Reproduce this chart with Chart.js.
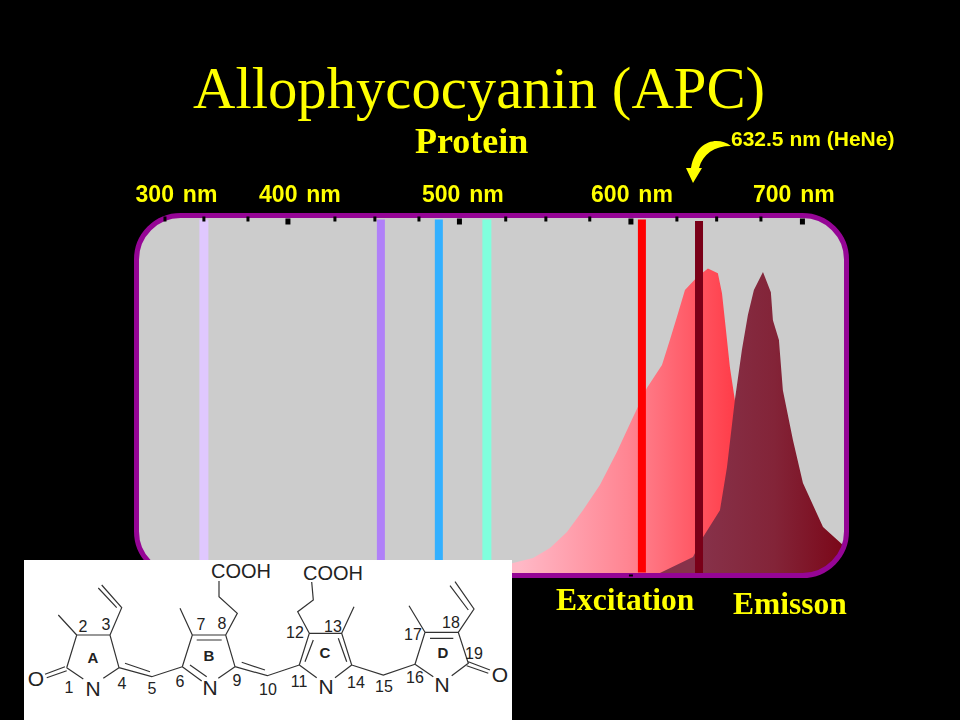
<!DOCTYPE html>
<html>
<head>
<meta charset="utf-8">
<title>Allophycocyanin (APC)</title>
<script src="https://cdn.jsdelivr.net/npm/chart.js@4/dist/chart.umd.min.js"></script>
<style>
  html, body { margin: 0; background: #000; }
  #wrap { position: relative; width: 960px; height: 720px; overflow: hidden; }
  #molecule { position: absolute; left: 0; top: 0; }
  #molecule path { fill: none; stroke: #333; stroke-width: 1.2; }
  #molecule text { font-family: "Liberation Sans", sans-serif; fill: #222; text-anchor: middle; dominant-baseline: central; font-size: 16px; }
  #molecule .atom { font-size: 21px; }
  #molecule .ring { font-size: 15px; font-weight: bold; }
</style>
</head>
<body>
<div id="wrap">
  <canvas id="chart" width="960" height="720"></canvas>
  <svg id="molecule" width="960" height="720">
    <rect x="24" y="560" width="488" height="160" fill="#fff"/>
    <!-- ring A -->
    <path d="M66.7 667.7L76.7 635L110 635L119 667.7L103.3 678.3M66.7 667.7L83.3 679M65 666.7L45 674.3M66.7 670.7L46.7 677.7M76.7 635L58.3 615M110 635L121.7 607.7L101.7 585M116.7 607.7L98.3 588M119 667.7L151.7 676.7L182.3 666.7M125 663.3L150 671.7"/>
    <!-- ring B -->
    <path d="M182.3 666.7L192.3 635L225.7 635L235 666.7L218.3 678.3M196.7 640L221.7 640M182.3 666.7L201.7 681M190 665L206.7 676.7M235 666.7L267.3 675.7L299.3 665M241.7 662.3L265 670M192.3 635L180 608.3M225.7 635L237.3 613.3L219 596.7L219 581"/>
    <!-- ring C -->
    <path d="M299.3 665L309.3 633.3L341.7 633.3L351.7 665L335 677.7M299.3 665L316.7 677.7M305 661.7L313.3 640M338.3 638.3L346.7 661.7M309.3 633.3L297.7 611.7L313.3 600L311.7 582M341.7 633.3L354 606.7M351.7 665L383.3 675L415 664.3"/>
    <!-- ring D -->
    <path d="M415 664.3L425 632.3L458.3 632.3L468.3 663.3L451.7 675.7M430 638.3L453.3 638.3M415 664.3L433.3 676.7M468.3 661.7L490 670M466.7 665.7L488.3 673.3M425 632.3L409 605.7M458.3 632.3L474 609L455 581.7M468.3 610L450 585.7"/>
    <text class="atom" x="36" y="678">O</text><text class="atom" x="93" y="688">N</text>
    <text class="atom" x="210" y="687">N</text><text class="atom" x="326" y="686">N</text>
    <text class="atom" x="442" y="684">N</text><text class="atom" x="500" y="674">O</text>
    <text x="241" y="571" style="font-size:20px">COOH</text><text x="333" y="573" style="font-size:20px">COOH</text>
    <text class="ring" x="93" y="657">A</text><text class="ring" x="209" y="655">B</text>
    <text class="ring" x="325" y="652">C</text><text class="ring" x="443" y="652">D</text>
    <text x="69" y="687">1</text><text x="83" y="626">2</text><text x="106" y="624">3</text>
    <text x="122" y="683">4</text><text x="152" y="688">5</text><text x="180" y="681">6</text>
    <text x="201" y="624">7</text><text x="222" y="623">8</text><text x="237" y="680">9</text>
    <text x="268" y="689">10</text><text x="299" y="681">11</text><text x="295" y="632">12</text>
    <text x="333" y="626">13</text><text x="356" y="682">14</text><text x="384" y="686">15</text>
    <text x="415" y="677">16</text><text x="413" y="634">17</text><text x="451" y="622">18</text>
    <text x="474" y="653">19</text>
  </svg>
</div>
<script>
  const excitationNm = [494.5,517.8,531.2,542.9,552.8,562.7,572,581.9,591.8,601.2,609.3,618.1,622.7,626.8,631.5,638.5,644.9,650.7,653.1,654.8,657.7,660.6,669.4,681,692.7];
  const excitationValues = [0,1.5,4.1,5.7,9,14.2,21.3,29.5,40.2,51.6,61.1,68.6,76.7,84.2,93,97.2,100,98.5,92,83.2,67.9,57.2,31.1,6.7,0];
  const emissionNm = [611.1,616.9,636.2,642,651.9,656,660.6,664.7,668.2,671.7,677,681.6,682.8,686.3,688.6,694.5,700.3,712,723.6,725.7];
  const emissionValues = [0,0.8,6,12.5,21.3,35.3,57.2,73.5,84.9,93,98.9,92.3,83.2,76.7,60.4,44.1,30.1,15.8,9.9,7.7];

  const laserNm = [351,454.2,488,516,606.4,639.7];
  const laserTop = [116,116,116,116,116,115.5];
  const laserBottom = [0,0,0,0,1,0];
  const laserColors = ['#e0c8ff','#b080f8','#33b0ff','#80ffdd','#ff0000','#7a0018'];
  const laserWidths = [9,8,8,9,8,8];

  const axisLabels = ['300 nm','400 nm','500 nm','600 nm','700 nm'];
  const axisLabelNm = [335,407,502,600.6,695];
  const tickNm = [328.3,351,376.7,400,427.4,450.7,476.4,500,527,550.4,576,600,626.8,650,675.8,700];
  const majorTicks = [400,500,600,700];

  function toPoints(xs, ys) {
    return xs.map((x, i) => ({ x: x, y: ys[i] }));
  }

  function sideGradient(chart, from, to, c1, c2, c3) {
    const g = chart.ctx.createLinearGradient(from, 0, to, 0);
    g.addColorStop(0, c1);
    g.addColorStop(0.5, c2);
    g.addColorStop(1, c3);
    return g;
  }

  function framePath(ctx, area) {
    ctx.beginPath();
    ctx.roundRect(area.left, area.top, area.width, area.height, 44);
  }

  const slidePlugin = {
    id: 'slide',
    beforeDraw(chart) {
      // wider gap between the number and "nm" on the axis labels
      chart.ctx.wordSpacing = '2.5px';
    },
    beforeDatasetsDraw(chart) {
      const ctx = chart.ctx, area = chart.chartArea;
      ctx.save();
      framePath(ctx, area);
      ctx.fillStyle = '#cccccc';
      ctx.fill();
      ctx.clip();
    },
    afterDatasetsDraw(chart) {
      const ctx = chart.ctx, area = chart.chartArea, x = chart.scales.x;
      ctx.restore();
      framePath(ctx, area);
      ctx.strokeStyle = '#950595';
      ctx.lineWidth = 5;
      ctx.stroke();

      ctx.fillStyle = '#000';
      tickNm.forEach(nm => {
        const px = x.getPixelForValue(nm);
        if (majorTicks.includes(nm)) ctx.fillRect(px - 2.5, area.top + 3, 5, 6);
        else ctx.fillRect(px - 1.5, area.top + 1, 3, 5);
      });
      ctx.fillRect(x.getPixelForValue(600) - 2, area.bottom - 1, 4, 2);

      ctx.wordSpacing = '0px';
      ctx.fillStyle = '#ffff00';
      ctx.textBaseline = 'alphabetic';
      ctx.textAlign = 'left';
      ctx.font = '58.7px "Liberation Serif"';
      ctx.fillText('Allophycocyanin (APC)', 193, 108);
      ctx.font = 'bold 36px "Liberation Serif"';
      ctx.fillText('Protein', 415, 153);
      ctx.font = 'bold 31.5px "Liberation Serif"';
      ctx.fillText('Excitation', 556, 610);
      ctx.fillText('Emisson', 733, 614);
      ctx.font = 'bold 21px "Liberation Sans"';
      ctx.fillText('632.5 nm (HeNe)', 731, 146);

      ctx.beginPath();
      ctx.moveTo(731, 146);
      ctx.bezierCurveTo(718, 136, 696, 140, 691, 168);
      ctx.lineTo(686, 168);
      ctx.lineTo(693, 183);
      ctx.lineTo(702, 168);
      ctx.lineTo(699, 168);
      ctx.bezierCurveTo(703, 154, 714, 146, 731, 146);
      ctx.closePath();
      ctx.fill();
    }
  };

  const laserSets = laserNm.map((nm, i) => ({
    data: [{ x: nm, y: laserBottom[i] }, { x: nm, y: laserTop[i] }],
    borderColor: laserColors[i],
    borderWidth: laserWidths[i],
    borderCapStyle: 'butt',
    pointRadius: 0,
    fill: false,
    order: 6 - i
  }));

  new Chart(document.getElementById('chart'), {
    type: 'line',
    plugins: [slidePlugin],
    data: {
      datasets: [
        {
          label: 'Excitation',
          data: toPoints(excitationNm, excitationValues),
          order: 20,
          borderWidth: 0,
          pointRadius: 0,
          tension: 0,
          fill: 'origin',
          backgroundColor: c => sideGradient(c.chart, 520, 735, '#ffb8c6', '#ff8592', '#ff3c48')
        },
        {
          label: 'Emisson',
          data: toPoints(emissionNm, emissionValues),
          order: 10,
          borderWidth: 0,
          pointRadius: 0,
          tension: 0,
          fill: 'origin',
          backgroundColor: c => sideGradient(c.chart, 700, 849, '#87324a', '#832438', '#7a0516')
        }
      ].concat(laserSets)
    },
    options: {
      responsive: false,
      animation: false,
      layout: { padding: { left: 136.5, right: 113.5, top: 165.5, bottom: 144.5 } },
      plugins: {
        legend: { display: false },
        tooltip: { enabled: false }
      },
      scales: {
        x: {
          type: 'linear',
          position: 'top',
          min: 311.7,
          max: 725.7,
          afterFit(scale) { scale.height = 50; },
          afterBuildTicks(scale) { scale.ticks = axisLabelNm.map(v => ({ value: v })); },
          grid: { display: false },
          border: { display: false },
          ticks: {
            autoSkip: false,
            maxRotation: 0,
            padding: -2,
            color: '#ffff00',
            font: { family: '"Liberation Sans"', size: 23, weight: 'bold' },
            callback: value => axisLabels[axisLabelNm.indexOf(value)]
          }
        },
        y: {
          display: false,
          min: 0,
          max: 117.3
        }
      }
    }
  });
</script>
</body>
</html>
